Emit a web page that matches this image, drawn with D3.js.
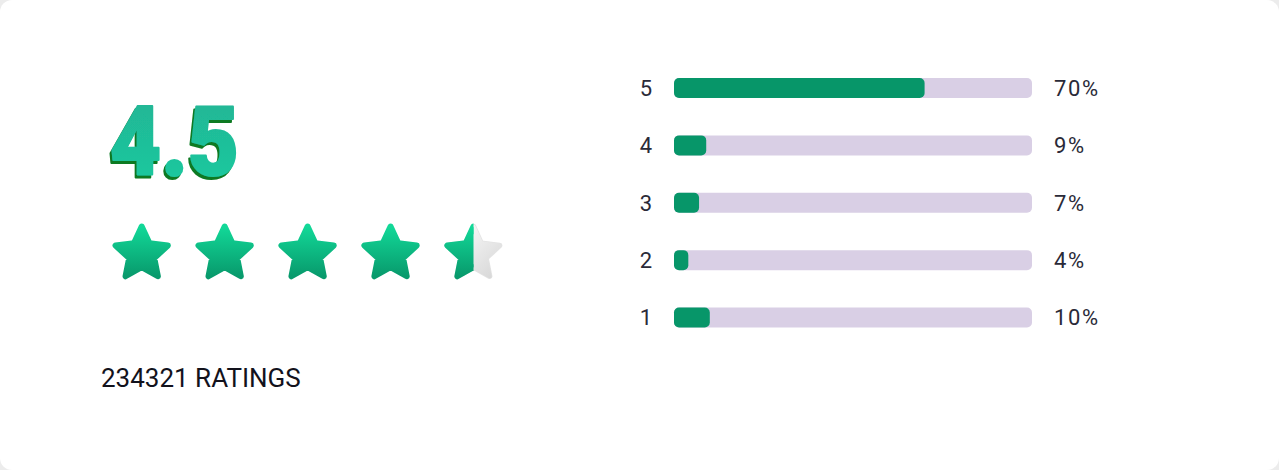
<!DOCTYPE html>
<html>
<head>
<meta charset="utf-8">
<script src="https://cdn.jsdelivr.net/npm/d3@7"></script>
<style>
  html, body { margin: 0; padding: 0; background: #ececec; }
  #card { width: 1279px; height: 470px; background: #ffffff; border-radius: 12px; overflow: hidden; }
  svg { display: block; }
</style>
</head>
<body>
<div id="card"></div>
<script>
const ratingLevels = [5, 4, 3, 2, 1];
const ratingShares = [70, 9, 7, 4, 10];
const averageRating = 4.5;
const totalRatings = 234321;
const starCount = 5;

const W = 1279, H = 470;
const svg = d3.select("#card").append("svg").attr("width", W).attr("height", H);
const defs = svg.append("defs");

// gradients
const gNum = defs.append("linearGradient").attr("id", "gNum").attr("x1", 0).attr("y1", 0).attr("x2", 0).attr("y2", 1);
gNum.append("stop").attr("offset", "0%").attr("stop-color", "#21b394");
gNum.append("stop").attr("offset", "100%").attr("stop-color", "#1dcca0");

const gStar = defs.append("linearGradient").attr("id", "gStar").attr("x1", 0).attr("y1", 0).attr("x2", 0).attr("y2", 1);
gStar.append("stop").attr("offset", "0%").attr("stop-color", "#12d898");
gStar.append("stop").attr("offset", "100%").attr("stop-color", "#089a6c");

const gGray = defs.append("linearGradient").attr("id", "gGray").attr("x1", 0).attr("y1", 0).attr("x2", 1).attr("y2", 1);
gGray.append("stop").attr("offset", "0%").attr("stop-color", "#ffffff");
gGray.append("stop").attr("offset", "100%").attr("stop-color", "#d6d6d6");

// extrusion shadow filter
const f = defs.append("filter").attr("id", "extrude").attr("x", "-10%").attr("y", "-10%").attr("width", "120%").attr("height", "130%");
f.append("feFlood").attr("flood-color", "#0e7a22").attr("result", "c");
f.append("feComposite").attr("in", "c").attr("in2", "SourceAlpha").attr("operator", "in").attr("result", "s");
f.append("feOffset").attr("in", "s").attr("dx", -2.5).attr("dy", 3).attr("result", "so");
const fm = f.append("feMerge");
fm.append("feMergeNode").attr("in", "so");
fm.append("feMergeNode").attr("in", "SourceGraphic");

// big number
const numText = d3.format(".1f")(averageRating);
svg.append("text")
  .attr("x", 110).attr("y", 175)
  .attr("font-family", "Roboto, sans-serif").attr("font-weight", 900).attr("font-size", 96)
  .attr("textLength", 129).attr("lengthAdjust", "spacingAndGlyphs")
  .attr("fill", "url(#gNum)").attr("stroke", "url(#gNum)").attr("stroke-width", 2.2)
  .attr("stroke-linejoin", "round")
  .attr("filter", "url(#extrude)")
  .text(numText);

// stars
const starX = d3.scaleLinear().domain([0, starCount - 1]).range([141.7, 473.5]);
const starCy = 254;
function starPath(R, r) {
  const pts = [];
  for (let i = 0; i < 10; i++) {
    const a = -Math.PI / 2 + i * Math.PI / 5;
    const rad = i % 2 === 0 ? R : r;
    pts.push([Math.cos(a) * rad, Math.sin(a) * rad]);
  }
  return "M" + pts.map(p => p.join(",")).join("L") + "Z";
}
const sp = starPath(27.5, 13.2);
d3.range(starCount).forEach(i => {
  const fillAmt = Math.max(0, Math.min(1, averageRating - i));
  const g = svg.append("g").attr("transform", `translate(${starX(i)},${starCy})`);
  if (fillAmt < 1) {
    g.append("path").attr("d", sp)
      .attr("fill", "url(#gGray)").attr("stroke", "#e3e3e3").attr("stroke-width", 5.5)
      .attr("stroke-linejoin", "round");
    g.append("path").attr("d", sp)
      .attr("fill", "url(#gGray)").attr("stroke", "url(#gGray)").attr("stroke-width", 4)
      .attr("stroke-linejoin", "round");
  }
  if (fillAmt > 0) {
    const cid = "clipStar" + i;
    defs.append("clipPath").attr("id", cid).append("rect")
      .attr("x", -40).attr("y", -40).attr("width", fillAmt === 1 ? 80 : 40 + (fillAmt * 2 - 1) * 30).attr("height", 80);
    g.append("path").attr("d", sp)
      .attr("clip-path", `url(#${cid})`)
      .attr("fill", "url(#gStar)").attr("stroke", "url(#gStar)").attr("stroke-width", 6)
      .attr("stroke-linejoin", "round");
  }
});

// ratings count
svg.append("text")
  .attr("x", 101).attr("y", 387)
  .attr("font-family", "Roboto, sans-serif").attr("font-size", 26)
  .attr("fill", "#12121c")
  .text(`${totalRatings} RATINGS`);

// bars
const trackX = 674, trackW = 358, barH = 20;
const y = d3.scalePoint().domain(ratingLevels).range([88, 317.5]);
const x = d3.scaleLinear().domain([0, 100]).range([0, trackW]);
const rows = ratingLevels.map((lvl, i) => ({ lvl, pct: ratingShares[i] }));

const row = svg.selectAll("g.row").data(rows).enter().append("g").attr("class", "row")
  .attr("transform", d => `translate(0,${y(d.lvl)})`);

row.append("rect")
  .attr("x", trackX).attr("y", -barH / 2)
  .attr("width", x(100)).attr("height", barH)
  .attr("rx", 5).attr("fill", "#d9cfe5");
row.append("rect")
  .attr("x", trackX).attr("y", -barH / 2)
  .attr("width", d => x(d.pct)).attr("height", barH)
  .attr("rx", 5).attr("fill", "#079669");
row.append("text")
  .attr("x", 646).attr("y", 0).attr("dy", "0.36em")
  .attr("text-anchor", "middle")
  .attr("font-family", "Roboto, sans-serif").attr("font-size", 22)
  .attr("fill", "#2a2a38")
  .text(d => d.lvl);
row.append("text")
  .attr("x", 1054).attr("y", 0).attr("dy", "0.36em")
  .attr("font-family", "Roboto, sans-serif").attr("font-size", 22)
  .attr("letter-spacing", "1.6px")
  .attr("fill", "#2a2a38")
  .text(d => d.pct + "%");
</script>
</body>
</html>
